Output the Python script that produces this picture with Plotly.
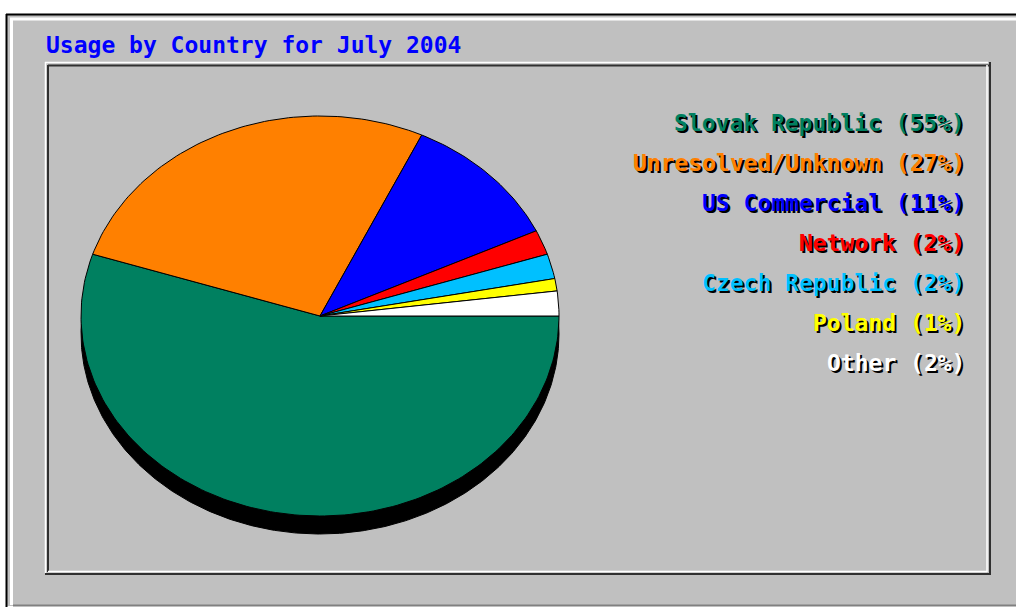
import numpy as np
import plotly.graph_objects as go

# ---- data ----
categories = ["Slovak Republic", "Unresolved/Unknown", "US Commercial",
              "Network", "Czech Republic", "Poland", "Other"]
percent = [55, 27, 11, 2, 2, 1, 2]
colors = ["#008060", "#FF8000", "#0000FF", "#FF0000", "#00C0FF", "#FFFF00", "#FFFFFF"]
title_text = "Usage by Country for July 2004"

# ---- geometry (pixel-like coordinate system) ----
W, H = 1016, 607
cx, cy, rx, ry, depth = 320, 316, 239, 200, 18
FONT = "DejaVu Sans Mono"
BG = "#C0C0C0"

fig = go.Figure()

# shadow (3D depth) ellipse
t = np.linspace(0, 2 * np.pi, 600)
fig.add_trace(go.Scatter(
    x=cx + rx * np.cos(t), y=cy + depth + ry * np.sin(t),
    mode="lines", fill="toself", fillcolor="black",
    line=dict(color="black", width=1), hoverinfo="skip", showlegend=False))

# slices, clockwise from 3 o'clock
vals = np.array(percent, dtype=float)
bounds = np.concatenate([[0], np.cumsum(vals) / vals.sum()]) * 2 * np.pi
for i, name in enumerate(categories):
    a = np.linspace(bounds[i], bounds[i + 1], max(3, int(300 * vals[i] / vals.sum()) + 3))
    xs = np.concatenate([[cx], cx + rx * np.cos(a), [cx]])
    ys = np.concatenate([[cy], cy + ry * np.sin(a), [cy]])
    fig.add_trace(go.Scatter(
        x=xs, y=ys, mode="lines", fill="toself", fillcolor=colors[i],
        line=dict(color="black", width=1), name=name,
        hoverinfo="name", showlegend=False))

# legend text with shadow
for i, name in enumerate(categories):
    label = f"{name} ({percent[i]}%)"
    yy = 123 + 40 * i
    for dx, dy, col in [(1.5, 1.5, "black"), (0, 0, colors[i])]:
        fig.add_annotation(x=967 + dx, y=yy + dy, xref="x", yref="y",
                           text=f"<b>{label}</b>", showarrow=False,
                           xanchor="right", yanchor="middle",
                           font=dict(family=FONT, size=23, color=col))

# title
fig.add_annotation(x=44, y=45, xref="x", yref="y", text=f"<b>{title_text}</b>",
                   showarrow=False, xanchor="left", yanchor="middle",
                   font=dict(family=FONT, size=23, color="#0000FF"))

# frames
shapes = [
    dict(type="rect", x0=6, y0=14, x1=1030, y1=606, fillcolor=BG, line=dict(width=0), layer="below"),
    dict(type="line", x0=6, y0=14.5, x1=1030, y1=14.5, line=dict(color="black", width=2)),
    dict(type="line", x0=6.5, y0=14, x1=6.5, y1=607, line=dict(color="black", width=2)),
    dict(type="line", x0=10, y0=19, x1=1030, y1=19, line=dict(color="white", width=3)),
    dict(type="line", x0=11.5, y0=19, x1=11.5, y1=605, line=dict(color="white", width=3)),
    dict(type="line", x0=13, y0=605.5, x1=1030, y1=605.5, line=dict(color="#808080", width=2)),
    # inner box: light top-left outside, dark inside; dark bottom-right outside
    dict(type="line", x0=45, y0=62.5, x1=988, y1=62.5, line=dict(color="white", width=1.5)),
    dict(type="line", x0=45.5, y0=62, x1=45.5, y1=573, line=dict(color="white", width=1.5)),
    dict(type="line", x0=48, y0=65.5, x1=989, y1=65.5, line=dict(color="#303030", width=2)),
    dict(type="line", x0=48, y0=65, x1=48, y1=572, line=dict(color="#303030", width=2)),
    dict(type="line", x0=48, y0=571.5, x1=987, y1=571.5, line=dict(color="white", width=1.5)),
    dict(type="line", x0=987, y0=65, x1=987, y1=572, line=dict(color="white", width=1.5)),
    dict(type="line", x0=45, y0=574, x1=991, y1=574, line=dict(color="#303030", width=2)),
    dict(type="line", x0=990, y0=62, x1=990, y1=575, line=dict(color="#303030", width=2)),
]

fig.update_layout(
    width=W, height=H, margin=dict(l=0, r=0, t=0, b=0),
    paper_bgcolor="white", plot_bgcolor="white",
    xaxis=dict(range=[0, W], visible=False, fixedrange=True),
    yaxis=dict(range=[H, 0], visible=False, fixedrange=True),
    shapes=shapes, showlegend=False,
)

fig.write_html("out.html", config={"displayModeBar": False},
               post_script="document.body.style.margin='0';document.body.style.overflow='hidden';")
